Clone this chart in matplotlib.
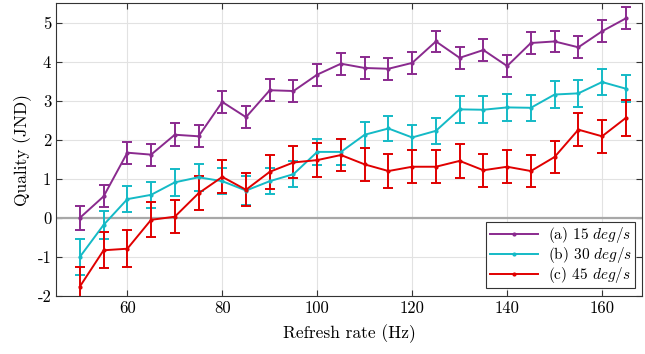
import numpy as np
import matplotlib
matplotlib.use('Agg')
import matplotlib.pyplot as plt
from matplotlib.lines import Line2D

plt.rcParams['font.family'] = 'cmr10'
plt.rcParams['mathtext.fontset'] = 'cm'
plt.rcParams['axes.unicode_minus'] = False

refresh = np.arange(50, 170, 5)

q_15 = [0.00, 0.55, 1.67, 1.62, 2.13, 2.09, 2.97, 2.58, 3.27, 3.25, 3.67, 3.95,
        3.84, 3.82, 3.97, 4.52, 4.10, 4.30, 3.89, 4.48, 4.52, 4.37, 4.78, 5.11]
e_15 = [0.30, 0.28, 0.28, 0.28, 0.29, 0.28, 0.28, 0.28, 0.28, 0.28, 0.28, 0.28,
        0.28, 0.28, 0.28, 0.28, 0.28, 0.28, 0.28, 0.28, 0.28, 0.28, 0.28, 0.28]

q_30 = [-1.00, -0.18, 0.48, 0.59, 0.91, 1.04, 0.94, 0.70, 0.94, 1.12, 1.69, 1.69,
        2.13, 2.29, 2.06, 2.23, 2.78, 2.77, 2.83, 2.82, 3.16, 3.19, 3.48, 3.31]
e_30 = [0.46, 0.35, 0.34, 0.34, 0.34, 0.34, 0.33, 0.36, 0.34, 0.34, 0.33, 0.33,
        0.33, 0.33, 0.33, 0.33, 0.34, 0.34, 0.34, 0.34, 0.34, 0.34, 0.34, 0.34]

q_45 = [-1.76, -0.83, -0.79, -0.05, 0.03, 0.63, 1.05, 0.72, 1.18, 1.42, 1.48, 1.61,
        1.37, 1.20, 1.31, 1.31, 1.46, 1.22, 1.31, 1.20, 1.56, 2.26, 2.09, 2.56]
e_45 = [0.50, 0.46, 0.47, 0.45, 0.43, 0.44, 0.42, 0.42, 0.43, 0.41, 0.43, 0.41,
        0.42, 0.43, 0.42, 0.42, 0.43, 0.42, 0.42, 0.42, 0.41, 0.43, 0.42, 0.45]

labels = [r'(a) 15 $deg/s$', r'(b) 30 $deg/s$', r'(c) 45 $deg/s$']
colors = ['#8a2a8e', '#14bac6', '#e00000']

fig = plt.figure(figsize=(6.45, 3.54), dpi=100)
ax = fig.add_axes([0.087, 0.164, 0.909, 0.827])

ax.axhline(0, color='#a8a8a8', lw=1.6, zorder=1)

handles = []
for q, e, lab, c in zip([q_15, q_30, q_45], [e_15, e_30, e_45], labels, colors):
    ax.errorbar(refresh, q, yerr=e, color=c, lw=1.4, marker='.', markersize=4,
                capsize=3.6, capthick=1.4, elinewidth=1.4, zorder=3)
    handles.append(Line2D([], [], color=c, lw=1.4, marker='.', markersize=4, label=lab))

ax.set_xlim(45, 168.5)
ax.set_ylim(-2, 5.5)
ax.set_xticks([60, 80, 100, 120, 140, 160])
ax.set_yticks([-2, -1, 0, 1, 2, 3, 4, 5])
ax.grid(True, color='#e2e2e2', lw=0.8)
ax.set_axisbelow(True)
ax.tick_params(direction='in', top=True, right=True, labelsize=12, length=4,
               color='#333333')
for s in ax.spines.values():
    s.set_color('#333333')
    s.set_linewidth(0.8)

ax.set_xlabel('Refresh rate (Hz)', fontsize=12.5, labelpad=6)
ax.set_ylabel('Quality (JND)', fontsize=12.5, labelpad=4)

leg = ax.legend(handles=handles, loc='lower right', fontsize=11, fancybox=False,
                framealpha=1, edgecolor='#333333', handlelength=3.2, borderpad=0.2,
                labelspacing=0.0, borderaxespad=0.5, handletextpad=0.6)
leg.get_frame().set_linewidth(0.8)

fig.savefig('out.png', dpi=100)
